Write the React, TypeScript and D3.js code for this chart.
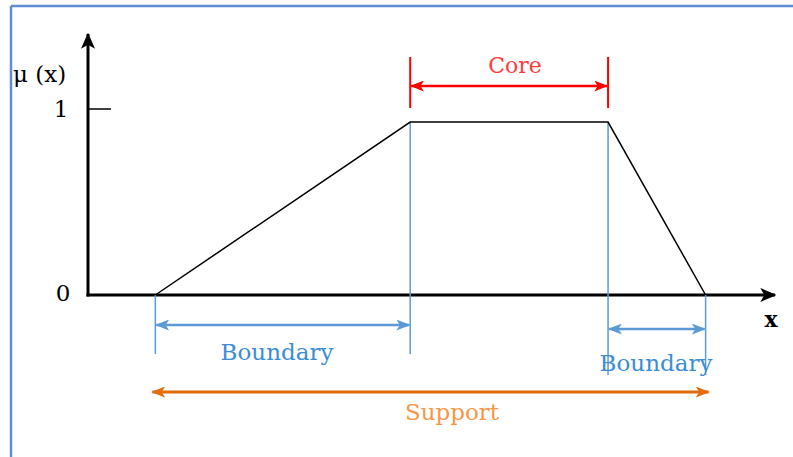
import React from "react";
import * as d3 from "d3";

// Membership function (trapezoid) in data units
const trapX = [9.8, 46.9, 75.7, 89.9];
const trapY = [0, 0.93, 0.93, 0];
const yTicks = [0, 1];
const yTickLabels = ["0", "1"];
const axisLabels = ["μ (x)", "x"];
const spanNames = ["Core", "Boundary", "Boundary", "Support"];

const W = 793;
const H = 457;

export default function App() {
  const x = d3.scaleLinear().domain([0, 100]).range([88, 775]);
  const y = d3.scaleLinear().domain([0, 1]).range([295, 109]);
  const line = d3
    .line<number>()
    .x((_, i) => x(trapX[i]))
    .y((d) => y(d));

  const [xa, xb, xc, xd] = trapX.map((v) => x(v));
  const blue = "#5B9BD5";
  const red = "#FF0000";
  const orange = "#E36C09";
  const font = "'DejaVu Serif', 'Liberation Serif', serif";

  const arrowHead = (id: string, color: string, w = 14, h = 11) => (
    <marker
      id={id}
      viewBox="0 0 12 10"
      refX={11}
      refY={5}
      markerWidth={w}
      markerHeight={h}
      markerUnits="userSpaceOnUse"
      orient="auto-start-reverse"
      preserveAspectRatio="none"
    >
      <path d="M0,0 L12,5 L0,10 L3,5 Z" fill={color} />
    </marker>
  );

  return (
    <svg
      width={W}
      height={H}
      style={{ position: "fixed", left: 0, top: 0, background: "#fff" }}
    >
      <defs>
        {arrowHead("ab", "#000", 16, 14)}
        {arrowHead("ared", red)}
        {arrowHead("ablue", blue)}
        {arrowHead("aor", orange)}
      </defs>
      {/* frame */}
      <line x1={11} y1={6} x2={W} y2={6} stroke="#5B8ED6" strokeWidth={2.5} />
      <line x1={11} y1={6} x2={11} y2={H} stroke="#5B8ED6" strokeWidth={2.5} />

      {/* axes */}
      <line x1={x(0)} y1={y(0) + 1.5} x2={x(0)} y2={34} stroke="#000" strokeWidth={3} markerEnd="url(#ab)" />
      <line x1={x(0) - 1.5} y1={y(0)} x2={x(100)} y2={y(0)} stroke="#000" strokeWidth={3} markerEnd="url(#ab)" />
      <line x1={x(0)} y1={y(1)} x2={x(0) + 23} y2={y(1)} stroke="#000" strokeWidth={1.5} />

      {yTicks.map((t, i) => (
        <text key={i} x={i === 0 ? 63 : 61} y={y(t) - (i === 0 ? 2 : 0)} dy="0.35em" textAnchor="middle" fontFamily={font} fontSize={23} fill="#000">
          {yTickLabels[i]}
        </text>
      ))}
      <text x={13} y={74} dy="0.35em" fontFamily={font} fontSize={23} fill="#000">
        {axisLabels[0]}
      </text>
      <text x={771} y={319} dy="0.35em" textAnchor="middle" fontFamily={font} fontSize={22} fontWeight="bold" fill="#000">
        {axisLabels[1]}
      </text>

      {/* blue boundary guides */}
      <line x1={xa} y1={y(0)} x2={xa} y2={354} stroke={blue} strokeWidth={1.5} />
      <line x1={xb} y1={y(trapY[1])} x2={xb} y2={354} stroke={blue} strokeWidth={1.5} />
      <line x1={xc} y1={y(trapY[2])} x2={xc} y2={375} stroke={blue} strokeWidth={1.5} />
      <line x1={xd} y1={y(0)} x2={xd} y2={375} stroke={blue} strokeWidth={1.5} />

      {/* trapezoid */}
      <path d={line(trapY) || ""} fill="none" stroke="#000" strokeWidth={1.5} />

      {/* Core */}
      <line x1={xb} y1={57} x2={xb} y2={108} stroke={red} strokeWidth={2} />
      <line x1={xc} y1={57} x2={xc} y2={108} stroke={red} strokeWidth={2} />
      <line x1={xb + 1} y1={86} x2={xc - 1} y2={86} stroke={red} strokeWidth={2.5} markerStart="url(#ared)" markerEnd="url(#ared)" />
      <text x={515} y={65} dy="0.35em" textAnchor="middle" fontFamily={font} fontSize={22} fill="#FF3B3B">
        {spanNames[0]}
      </text>

      {/* Boundary left */}
      <line x1={xa + 1} y1={325} x2={xb - 1} y2={325} stroke={blue} strokeWidth={2.5} markerStart="url(#ablue)" markerEnd="url(#ablue)" />
      <text x={277} y={352} dy="0.35em" textAnchor="middle" fontFamily={font} fontSize={23} fill="#3A8DD6">
        {spanNames[1]}
      </text>

      {/* Boundary right */}
      <line x1={xc + 1} y1={329} x2={xd - 1} y2={329} stroke={blue} strokeWidth={2.5} markerStart="url(#ablue)" markerEnd="url(#ablue)" />
      <text x={656} y={363} dy="0.35em" textAnchor="middle" fontFamily={font} fontSize={23} fill="#3A8DD6">
        {spanNames[2]}
      </text>

      {/* Support */}
      <line x1={xa - 3} y1={392} x2={xd + 3} y2={392} stroke={orange} strokeWidth={3} markerStart="url(#aor)" markerEnd="url(#aor)" />
      <text x={452} y={412} dy="0.35em" textAnchor="middle" fontFamily={font} fontSize={23} fill="#F79646">
        {spanNames[3]}
      </text>
    </svg>
  );
}
